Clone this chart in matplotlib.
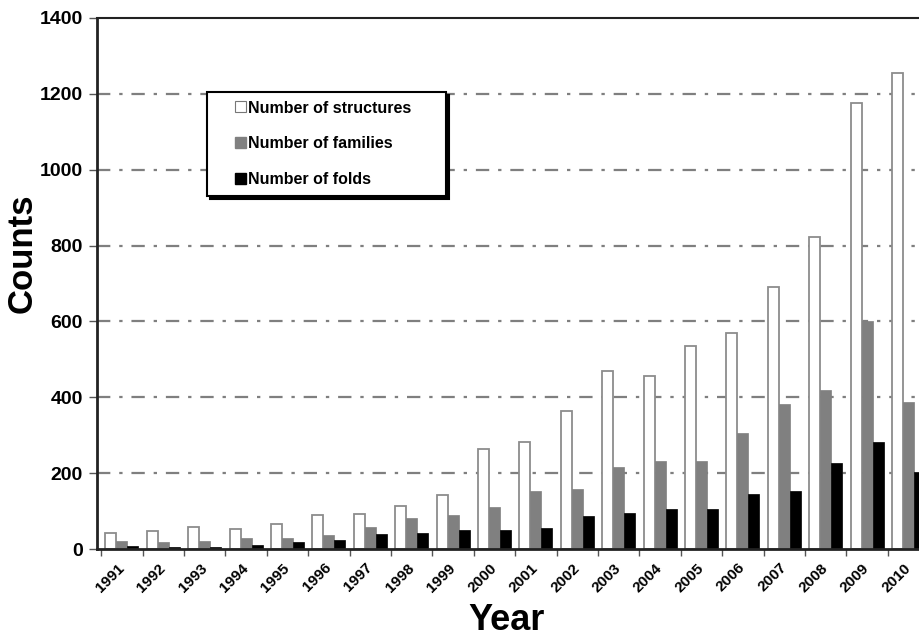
import matplotlib
matplotlib.use('Agg')
import matplotlib.pyplot as plt
import matplotlib.patches as mpatches
from matplotlib.legend_handler import HandlerPatch
import numpy as np

plt.rcParams['font.family'] = ['Liberation Sans', 'DejaVu Sans']
plt.rcParams['font.weight'] = 'bold'

years = ['1991', '1992', '1993', '1994', '1995', '1996', '1997', '1998', '1999', '2000',
         '2001', '2002', '2003', '2004', '2005', '2006', '2007', '2008', '2009', '2010']
structures = [41, 47, 58, 53, 66, 89, 93, 113, 143, 264,
              282, 363, 468, 457, 534, 570, 692, 823, 1177, 1255]
families = [20, 18, 20, 29, 29, 37, 59, 81, 89, 111,
            154, 159, 216, 231, 231, 307, 381, 420, 600, 387]
folds = [8, 5, 4, 10, 18, 24, 40, 43, 51, 51,
         56, 86, 95, 106, 106, 146, 152, 226, 281, 202]

x = np.arange(len(years))
w = 0.266

fig = plt.figure(figsize=(9.19, 6.41), dpi=100)
ax = fig.add_axes([0.1055, 0.1435, 0.9445, 0.8285])
ax_w = 0.9445 * 919

for yv in range(200, 1400, 200):
    ax.axhline(yv, color='#7f7f7f', lw=1.6, ls=(0, (6, 4, 1.5, 4)), zorder=0)

ax.bar(x - w, structures, w, color='white', edgecolor='#8c8c8c', lw=1.3, zorder=2)
ax.bar(x, families, w, color='#808080', edgecolor='#808080', lw=0.5, zorder=2)
ax.bar(x + w, folds, w, color='black', edgecolor='black', lw=0.5, zorder=2)

# axes run past the right edge of the figure (cropped like the original)
ax.set_xlim(-0.604, -0.604 + ax_w / 41.4)
ax.set_ylim(0, 1400)

ax.set_xticks(x)
ax.set_xticklabels(years, rotation=45, ha='right', va='center', rotation_mode='anchor',
                   fontsize=11, fontweight='bold')
ax.tick_params(axis='x', which='major', length=0, pad=12)
ax.set_xticks(np.append(x - 0.5, 19.5), minor=True)
ax.tick_params(axis='x', which='minor', length=5, width=1, color='#555555')

ax.set_yticks(range(0, 1401, 200))
ax.tick_params(axis='y', length=6, width=1, color='#555555', labelsize=14, pad=4)
for t in ax.get_yticklabels():
    t.set_fontweight('bold')

for s in ['left', 'bottom']:
    ax.spines[s].set_linewidth(2)
    ax.spines[s].set_color('#222222')
ax.spines['top'].set_linewidth(1.5)
ax.spines['top'].set_color('#222222')
ax.spines['right'].set_visible(False)

ax.set_ylabel('Counts', fontsize=25, fontweight='bold', va='center')
ax.yaxis.set_label_coords((22 - 97) / ax_w, 0.557)
ax.set_xlabel('Year', fontsize=26, fontweight='bold', va='top')
ax.xaxis.set_label_coords((507 - 97) / ax_w, -0.1017)


def right_square(legend, orig_handle, xdescent, ydescent, width, height, fontsize):
    s = 8
    return mpatches.Rectangle((width - xdescent - s, (height - s) / 2 - ydescent), s, s)


h1 = mpatches.Patch(facecolor='white', edgecolor='#777777', lw=0.8)
h2 = mpatches.Patch(facecolor='#808080', edgecolor='#808080')
h3 = mpatches.Patch(facecolor='black', edgecolor='black')
l0 = (207 - 97) / ax_w
lw_ = (446 - 207) / ax_w
leg = ax.legend([h1, h2, h3], ['Number of structures', 'Number of families', 'Number of folds'],
                loc='upper left', bbox_to_anchor=(l0, 0.663, lw_, 0.198), mode='expand',
                borderaxespad=0, prop={'weight': 'bold', 'size': 11.5},
                handlelength=1.9, handleheight=0.6, handletextpad=0.15, labelspacing=1.3,
                borderpad=0.55, fancybox=False, edgecolor='black', framealpha=1,
                shadow={'color': 'black', 'alpha': 1},
                handler_map={mpatches.Patch: HandlerPatch(patch_func=right_square)})
leg.get_frame().set_linewidth(1.5)
leg.set_zorder(5)

fig.savefig('out.png', dpi=100)
